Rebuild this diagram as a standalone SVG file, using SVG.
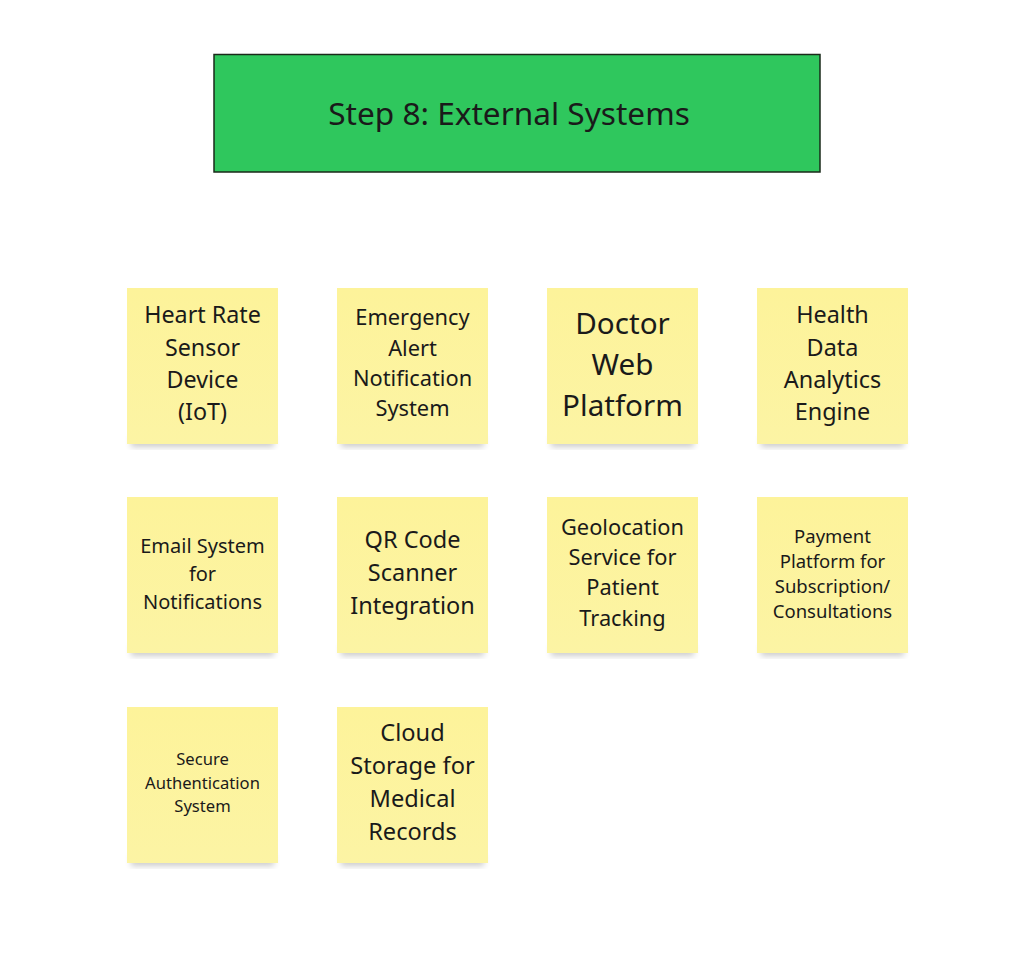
<svg xmlns="http://www.w3.org/2000/svg" width="1034" height="967" viewBox="0 0 1034 967">
<style>
text{font-family:"Noto Sans","Open Sans","DejaVu Sans",sans-serif;fill:#1a1a1a;text-anchor:middle}
.sticky{fill:url(#sg)}
.sh{fill:#000;opacity:0.2;filter:url(#blur)}
</style>
<defs>
<linearGradient id="sg" x1="0" y1="0" x2="0" y2="1">
<stop offset="0" stop-color="#fdf39a"/>
<stop offset="1" stop-color="#fcf4a4"/>
</linearGradient>
<filter id="blur" x="-20%" y="-20%" width="140%" height="140%"><feGaussianBlur stdDeviation="3"/></filter>
</defs>
<rect width="1034" height="967" fill="#fff"/>
<g id="title">
<rect x="214" y="54.5" width="606" height="117.5" fill="#2fc75d" stroke="#1a2a1a" stroke-width="1.5"/>
<text x="509" y="125" font-size="31.6">Step 8: External Systems</text>
</g>
<g id="connectors"></g>
<g id="n1"><rect class="sh" x="131" y="436" width="143" height="11"/><rect class="sticky" x="127" y="288" width="151" height="156"/>
<text font-size="23.3"><tspan x="202.5" y="323">Heart Rate</tspan><tspan x="202.5" y="356">Sensor</tspan><tspan x="202.5" y="388">Device</tspan><tspan x="202.5" y="420">(IoT)</tspan></text></g>
<g id="n2"><rect class="sh" x="341" y="436" width="143" height="11"/><rect class="sticky" x="337" y="288" width="151" height="156"/>
<text font-size="21.8"><tspan x="412.5" y="325">Emergency</tspan><tspan x="412.5" y="356">Alert</tspan><tspan x="412.5" y="386">Notification</tspan><tspan x="412.5" y="416">System</tspan></text></g>
<g id="n3"><rect class="sh" x="551" y="436" width="143" height="11"/><rect class="sticky" x="547" y="288" width="151" height="156"/>
<text font-size="29.6"><tspan x="622.5" y="334">Doctor</tspan><tspan x="622.5" y="375">Web</tspan><tspan x="622.5" y="416">Platform</tspan></text></g>
<g id="n4"><rect class="sh" x="761" y="436" width="143" height="11"/><rect class="sticky" x="757" y="288" width="151" height="156"/>
<text font-size="23.4"><tspan x="832.5" y="323">Health</tspan><tspan x="832.5" y="356">Data</tspan><tspan x="832.5" y="388">Analytics</tspan><tspan x="832.5" y="420">Engine</tspan></text></g>
<g id="n5"><rect class="sh" x="131" y="645" width="143" height="11"/><rect class="sticky" x="127" y="497" width="151" height="156"/>
<text font-size="20"><tspan x="202.5" y="553">Email System</tspan><tspan x="202.5" y="581">for</tspan><tspan x="202.5" y="609">Notifications</tspan></text></g>
<g id="n6"><rect class="sh" x="341" y="645" width="143" height="11"/><rect class="sticky" x="337" y="497" width="151" height="156"/>
<text font-size="23.5"><tspan x="412.5" y="548">QR Code</tspan><tspan x="412.5" y="581">Scanner</tspan><tspan x="412.5" y="614">Integration</tspan></text></g>
<g id="n7"><rect class="sh" x="551" y="645" width="143" height="11"/><rect class="sticky" x="547" y="497" width="151" height="156"/>
<text font-size="21.8"><tspan x="622.5" y="535">Geolocation</tspan><tspan x="622.5" y="565">Service for</tspan><tspan x="622.5" y="595">Patient</tspan><tspan x="622.5" y="626">Tracking</tspan></text></g>
<g id="n8"><rect class="sh" x="761" y="645" width="143" height="11"/><rect class="sticky" x="757" y="497" width="151" height="156"/>
<text font-size="18.5"><tspan x="832.5" y="543">Payment</tspan><tspan x="832.5" y="568">Platform for</tspan><tspan x="832.5" y="593">Subscription/</tspan><tspan x="832.5" y="618">Consultations</tspan></text></g>
<g id="n9"><rect class="sh" x="131" y="855" width="143" height="11"/><rect class="sticky" x="127" y="707" width="151" height="156"/>
<text font-size="16.6"><tspan x="202.5" y="765">Secure</tspan><tspan x="202.5" y="789">Authentication</tspan><tspan x="202.5" y="812">System</tspan></text></g>
<g id="n10"><rect class="sh" x="341" y="855" width="143" height="11"/><rect class="sticky" x="337" y="707" width="151" height="156"/>
<text font-size="23.6"><tspan x="412.5" y="741">Cloud</tspan><tspan x="412.5" y="774">Storage for</tspan><tspan x="412.5" y="807">Medical</tspan><tspan x="412.5" y="840">Records</tspan></text></g>
</svg>
